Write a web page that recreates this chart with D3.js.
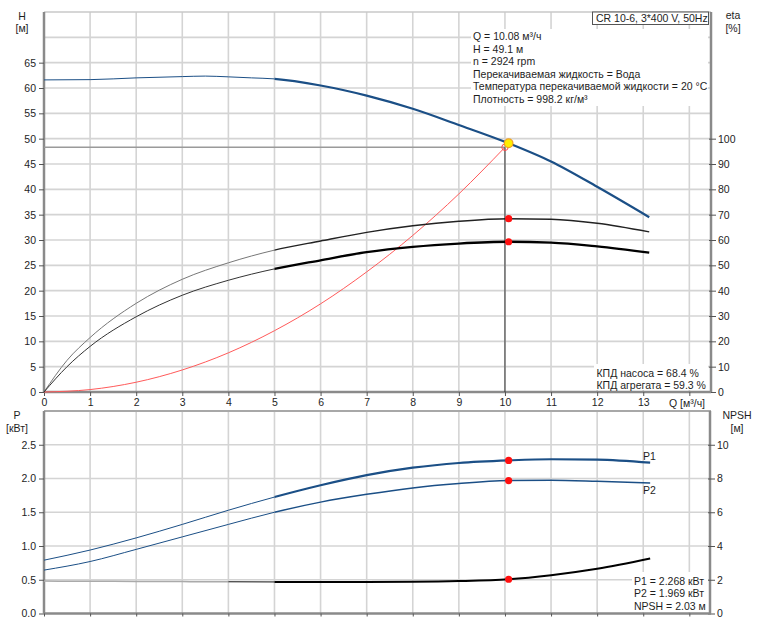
<!DOCTYPE html>
<html><head><meta charset="utf-8">
<script src="https://cdn.jsdelivr.net/npm/d3@7"></script>
<style>
html,body{margin:0;padding:0;background:#fff;}
svg text{font-family:"Liberation Sans",Arial,sans-serif;font-size:10.5px;fill:#1e1e1e;}
</style></head><body>
<svg id="c" width="757" height="626"></svg>
<script>
// ---------- data ----------
const qTicks = [0,1,2,3,4,5,6,7,8,9,10,11,12,13];
const hTicks = [0,5,10,15,20,25,30,35,40,45,50,55,60,65];
const etaTicks = [0,10,20,30,40,50,60,70,80,90,100];
const pTicks = [0,0.5,1.0,1.5,2.0,2.5];
const npshTicks = [0,2,4,6,8,10];

const qH = [0,1,2,3,3.5,4,4.5,5,6,7,8,9,10.08,11,12,13.13];
const hVals = [61.6,61.65,62.0,62.25,62.35,62.2,62.0,61.8,60.5,58.5,55.9,52.7,49.1,45.5,40.5,34.5];

const qEta = [0,0.5,1,2,3,4,5,6,7,8,9,10.08,11,12,13.13];
const etaPump = [0,12.5,21.5,35,44.5,51,56,59.6,63,65.6,67.4,68.4,68.2,66.6,63.2];
const etaTotal = [0,10,18,29.7,38.2,44.1,48.6,52,55.2,57.3,58.6,59.3,59.0,57.5,55.0];

const qSys = [0,1,2,3,4,5,6,7,8,9,10];
const hSys = [0,0.48,1.93,4.35,7.73,12.1,17.4,23.7,30.9,39.1,48.3];

const qP = [0,1,2,3,4,5,6,7,8,9,10.08,11,12,13.15];
const p1Vals = [0.79,0.94,1.12,1.32,1.53,1.725,1.90,2.05,2.16,2.23,2.268,2.285,2.28,2.235];
const p2Vals = [0.643,0.77,0.95,1.135,1.32,1.50,1.65,1.765,1.86,1.925,1.969,1.975,1.96,1.935];
const npshVals = [1.92,1.91,1.9,1.89,1.88,1.87,1.87,1.87,1.88,1.92,2.03,2.27,2.65,3.26];

const duty = {q:10.08, h:49.1, etaP:68.4, etaT:59.3, p1:2.268, p2:1.969, npsh:2.03};
const req = {q:10, h:48.3};

const infoLines = ["Q = 10.08 м³/ч","H = 49.1 м","n = 2924 rpm","Перекачиваемая жидкость = Вода","Температура перекачиваемой жидкости = 20 °C","Плотность = 998.2 кг/м³"];
const modelLabel = "CR 10-6, 3*400 V, 50Hz";
const effLines = ["КПД насоса = 68.4 %","КПД агрегата = 59.3 %"];
const powLines = ["P1 = 2.268 кВт","P2 = 1.969 кВт","NPSH = 2.03 м"];

// ---------- layout ----------
const svg = d3.select("#c");
const L = 44, R = 711;
const x = d3.scaleLinear().domain([0,14.47]).range([L,R]);
const yH = d3.scaleLinear().domain([0,75]).range([392,12]);
const yEta = d3.scaleLinear().domain([0,150]).range([392,12]);
const yP = d3.scaleLinear().domain([0,3]).range([613.5,411]);
const yN = d3.scaleLinear().domain([0,12]).range([613.5,411]);

const BLUE = "#1b4f86", GRID="#d4d4d4", AX="#8a8a8a";

const defs = svg.append("defs");
defs.append("clipPath").attr("id","rng").append("rect")
  .attr("x",x(5)).attr("y",0).attr("width",R-x(5)).attr("height",626);
defs.append("clipPath").attr("id","lo").append("rect")
  .attr("x",0).attr("y",0).attr("width",x(5)).attr("height",626);
defs.append("clipPath").attr("id","n1").append("rect")
  .attr("x",0).attr("y",0).attr("width",x(4)).attr("height",626);
defs.append("clipPath").attr("id","n2").append("rect")
  .attr("x",x(4)).attr("y",0).attr("width",x(5)-x(4)).attr("height",626);

// ---------- grids ----------
const gridQ = d3.range(1,15);
function vgrid(y0,y1){
  svg.append("g").selectAll("line").data(gridQ).join("line")
    .attr("x1",d=>x(d)).attr("x2",d=>x(d)).attr("y1",y0).attr("y2",y1)
    .attr("stroke",GRID).attr("stroke-width",1.6);
}
vgrid(12,392); vgrid(411,613.5);
svg.append("g").selectAll("line").data(d3.range(5,75,5)).join("line")
  .attr("x1",L).attr("x2",R).attr("y1",d=>yH(d)).attr("y2",d=>yH(d))
  .attr("stroke",GRID).attr("stroke-width",1.6);
svg.append("g").selectAll("line").data([0.5,1,1.5,2,2.5]).join("line")
  .attr("x1",L).attr("x2",R).attr("y1",d=>yP(d)).attr("y2",d=>yP(d))
  .attr("stroke",GRID).attr("stroke-width",1.6);

// ---------- frames / axes ----------
svg.append("line").attr("x1",L).attr("x2",R).attr("y1",12).attr("y2",12).attr("stroke","#c8c8c8").attr("stroke-width",1.5);
svg.append("line").attr("x1",L).attr("x2",R).attr("y1",411).attr("y2",411).attr("stroke","#a8a8a8").attr("stroke-width",2);

function axisStyle(g){
  g.select(".domain").attr("stroke",AX).attr("stroke-width",2.5);
  g.selectAll(".tick line").attr("stroke","#555");
  g.selectAll(".tick text").attr("fill","#1e1e1e").style("font-size","10.5px")
   .style("font-family",'"Liberation Sans",Arial,sans-serif');
}
svg.append("g").attr("transform",`translate(${L},0)`)
  .call(d3.axisLeft(yH).tickValues(hTicks).tickSize(5).tickSizeOuter(0).tickPadding(3))
  .call(axisStyle).call(g=>g.select(".domain").attr("d",`M0,12V392`));
svg.append("g").attr("transform",`translate(${R},0)`)
  .call(d3.axisRight(yEta).tickValues(etaTicks).tickSize(5).tickSizeOuter(0).tickPadding(2))
  .call(axisStyle).call(g=>g.select(".domain").attr("d",`M0,12V392`))
  .call(g=>g.selectAll(".tick line").attr("x1",-2));
svg.append("g").attr("transform",`translate(0,392)`)
  .call(d3.axisBottom(x).tickValues(d3.range(0,15)).tickSize(4).tickSizeOuter(0).tickPadding(3)
    .tickFormat(d=>d===14?"":d))
  .call(axisStyle).call(g=>g.select(".domain").attr("d",`M${L},0H${R}`));

svg.append("g").attr("transform",`translate(${L},0)`)
  .call(d3.axisLeft(yP).tickValues(pTicks).tickSize(5).tickSizeOuter(0).tickPadding(3).tickFormat(d3.format(".1f")))
  .call(axisStyle).call(g=>g.select(".domain").attr("d",`M0,411V613.5`));
svg.append("g").attr("transform",`translate(${R-1},0)`)
  .call(d3.axisRight(yN).tickValues(npshTicks).tickSize(5).tickSizeOuter(0).tickPadding(2))
  .call(axisStyle).call(g=>g.select(".domain").attr("d",`M0,411V613.5`))
  .call(g=>g.selectAll(".tick line").attr("x1",-2));
svg.append("g").attr("transform",`translate(0,613.5)`)
  .call(d3.axisBottom(x).tickValues(d3.range(0,15)).tickSize(3).tickSizeOuter(0).tickFormat(""))
  .call(axisStyle).call(g=>g.select(".domain").attr("d",`M${L},0H${R}`));

function txt(t,xx,yy,anchor){ return svg.append("text").text(t).attr("x",xx).attr("y",yy).attr("text-anchor",anchor||"start"); }
txt("H",22,20,"middle"); txt("[м]",22,32,"middle");
txt("eta",733,19,"middle"); txt("[%]",733,32,"middle");
txt("P",17,419,"middle"); txt("[кВт]",17,432,"middle");
txt("NPSH",737,419,"middle"); txt("[м]",737,432,"middle");
txt("Q [м³/ч]",669,407);

// ---------- curves ----------
const line = (xs,ys,sy)=>d3.line().curve(d3.curveMonotoneX)(xs.map((q,i)=>[x(q),sy(ys[i])]));
function curve(xs,ys,sy,color,w,clip){
  const p = svg.append("path").attr("d",line(xs,ys,sy)).attr("fill","none")
    .attr("stroke",color).attr("stroke-width",w).attr("stroke-linejoin","round");
  if(clip) p.attr("clip-path",`url(#${clip})`);
  return p;
}
curve(qSys,hSys,yH,"#ff5a5a",1);
svg.append("line").attr("x1",L).attr("x2",x(req.q)).attr("y1",yH(req.h)).attr("y2",yH(req.h)).attr("stroke","#9a9a9a").attr("stroke-width",1.5);
svg.append("line").attr("x1",x(req.q)).attr("x2",x(req.q)).attr("y1",yH(req.h)).attr("y2",392).attr("stroke","#333").attr("stroke-width",1);

curve(qH,hVals,yH,BLUE,1,"lo");
curve(qH,hVals,yH,BLUE,2.2,"rng");
curve(qEta,etaPump,yEta,"#777",1,"lo");
curve(qEta,etaPump,yEta,"#222",1.4,"rng");
curve(qEta,etaTotal,yEta,"#333",1,"lo");
curve(qEta,etaTotal,yEta,"#000",2.3,"rng");
curve(qP,p1Vals,yP,BLUE,1,"lo");
curve(qP,p1Vals,yP,BLUE,2.2,"rng");
curve(qP,p2Vals,yP,BLUE,1,"lo");
curve(qP,p2Vals,yP,BLUE,1.5,"rng");
curve(qP,npshVals,yN,"#aaa",1.5,"n1");
curve(qP,npshVals,yN,"#111",1,"n2");
curve(qP,npshVals,yN,"#000",2,"rng");

// ---------- markers ----------
svg.append("circle").attr("cx",x(req.q)).attr("cy",yH(req.h)).attr("r",3.2).attr("fill","none").attr("stroke","#ff4a4a").attr("stroke-width",1);
svg.append("circle").attr("cx",x(duty.q)).attr("cy",yH(duty.h)).attr("r",4.3).attr("fill","#ffee00").attr("stroke","#f0a020").attr("stroke-width",1.2);
const reds = [[yEta,duty.etaP],[yEta,duty.etaT],[yP,duty.p1],[yP,duty.p2],[yN,duty.npsh]];
svg.append("g").selectAll("circle").data(reds).join("circle")
  .attr("cx",x(duty.q)).attr("cy",d=>d[0](d[1])).attr("r",3.6).attr("fill","#ff1010");

txt("P1",643,460,"start").attr("fill","#1f3a60");
txt("P2",643,494,"start").attr("fill","#1f3a60");

// ---------- text blocks ----------
svg.append("rect").attr("x",471).attr("y",29).attr("width",237).attr("height",77).attr("fill","#fff");
infoLines.forEach((t,i)=>txt(t,473,40+i*12.6));
svg.append("rect").attr("x",592.5).attr("y",12).attr("width",116).attr("height",12.5).attr("fill","#fff").attr("stroke","#555").attr("stroke-width",1);
txt(modelLabel,596,22);
svg.append("rect").attr("x",594).attr("y",364).attr("width",114).attr("height",26).attr("fill","#fff");
effLines.forEach((t,i)=>txt(t,596.5,377+i*11.8));
svg.append("rect").attr("x",632).attr("y",572).attr("width",76).attr("height",40).attr("fill","#fff");
powLines.forEach((t,i)=>txt(t,634,585+i*12.3));
</script>
</body></html>
